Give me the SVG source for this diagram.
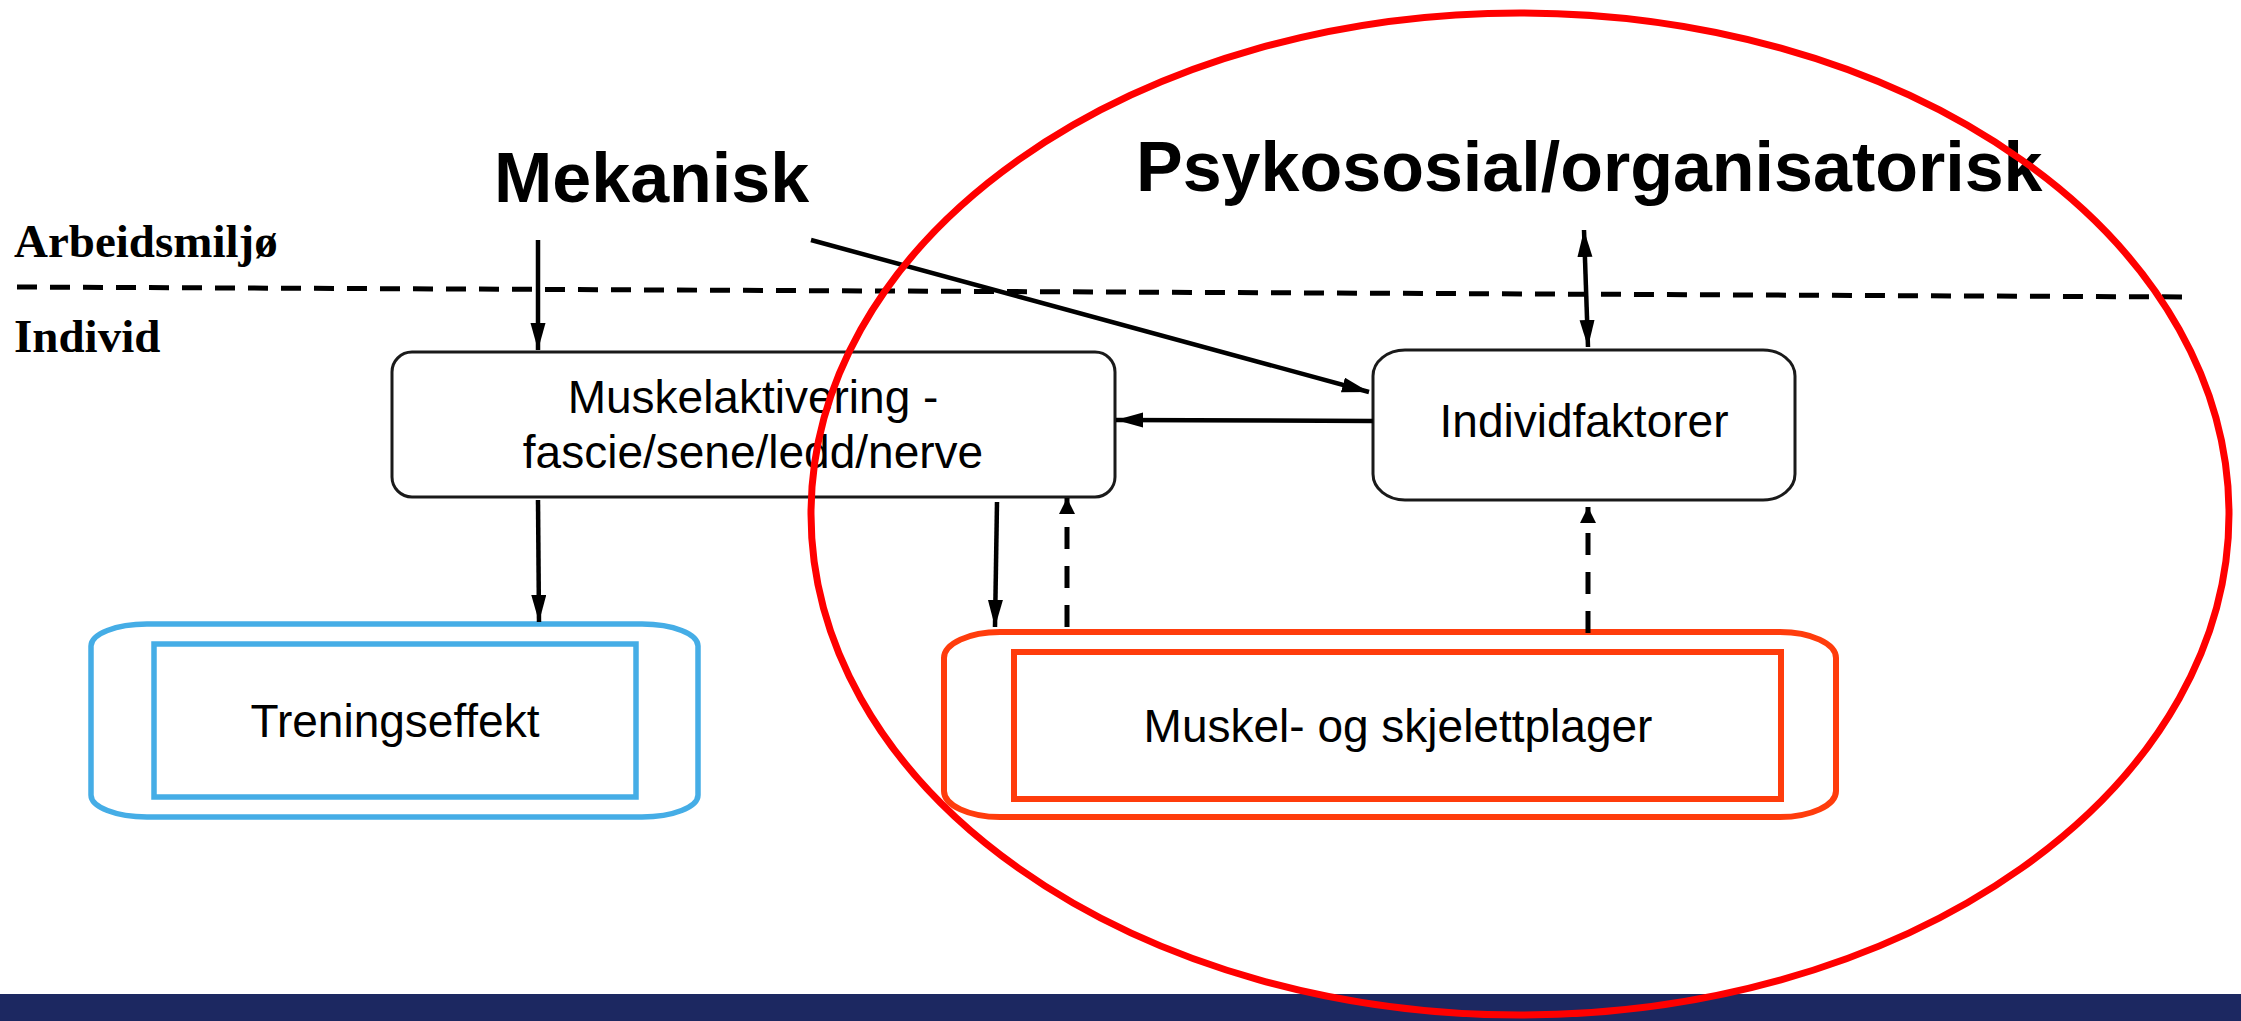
<svg xmlns="http://www.w3.org/2000/svg" width="2241" height="1021" viewBox="0 0 2241 1021">
<style>
.title{font-family:"Liberation Sans",Arial,sans-serif;font-weight:bold;font-size:70px;fill:#000}
.side{font-family:"Liberation Serif","Times New Roman",serif;font-weight:bold;font-size:47px;fill:#000}
.lbl{font-family:"Liberation Sans",Arial,sans-serif;font-size:46px;fill:#000;text-anchor:middle}
.box{fill:#fff;stroke:#1a1a1a;stroke-width:3}
.blue{fill:none;stroke:#45ade6;stroke-width:5.5}
.red{fill:none;stroke:#ff3c0c;stroke-width:6}
.conn{stroke:#000;stroke-width:4.5;fill:none}
.dash{stroke:#000;stroke-width:5;fill:none;stroke-dasharray:22 17}
</style>
<defs>
<marker id="arrow" markerUnits="userSpaceOnUse" markerWidth="28" markerHeight="16" refX="27" refY="7.5" orient="auto-start-reverse" viewBox="0 0 28 16">
<path d="M0,0 L27,7.5 L0,15 z" fill="#000"/>
</marker>
<marker id="arrowShort" markerUnits="userSpaceOnUse" markerWidth="18" markerHeight="17" refX="16" refY="8" orient="auto" viewBox="0 0 18 17">
<path d="M0,0 L16,8 L0,16 z" fill="#000"/>
</marker>
</defs>
<rect x="0" y="0" width="2241" height="1021" fill="#fff"/>
<rect x="0" y="994" width="2241" height="27" fill="#1c2861"/>

<g id="label-arbeidsmiljo"><text class="side" x="14" y="257">Arbeidsmiljø</text></g>
<g id="label-individ"><text class="side" x="14" y="352">Individ</text></g>
<g id="separator"><line x1="17" y1="287" x2="2193" y2="297" stroke="#000" stroke-width="5" stroke-dasharray="20 13"/></g>

<g id="node-mekanisk"><text class="title" x="494" y="202">Mekanisk</text></g>
<g id="node-psykososial"><text class="title" x="1136" y="191">Psykososial/organisatorisk</text></g>

<g id="node-muskelaktivering">
<rect class="box" x="392" y="352" width="723" height="145" rx="20" ry="20"/>
<text class="lbl" x="753" y="413">Muskelaktivering -</text>
<text class="lbl" x="753" y="468">fascie/sene/ledd/nerve</text>
</g>

<g id="node-individfaktorer">
<rect class="box" x="1373" y="350" width="422" height="150" rx="32" ry="26"/>
<text class="lbl" x="1584" y="437">Individfaktorer</text>
</g>

<g id="node-treningseffekt">
<rect class="blue" x="91" y="624" width="607" height="193" rx="56" ry="22"/>
<rect class="blue" x="154" y="644" width="482" height="153"/>
<text class="lbl" x="395" y="737">Treningseffekt</text>
</g>

<g id="node-plager">
<rect class="red" x="944" y="632" width="892" height="185" rx="56" ry="26"/>
<rect class="red" x="1014" y="652" width="767" height="147"/>
<text class="lbl" x="1398" y="742">Muskel- og skjelettplager</text>
</g>

<g id="connectors">
<line class="conn" x1="538" y1="240" x2="538" y2="350" marker-end="url(#arrow)"/>
<line class="conn" x1="811" y1="240" x2="1369" y2="392" marker-end="url(#arrow)"/>
<line class="conn" x1="1373" y1="421" x2="1116" y2="420" marker-end="url(#arrow)"/>
<line class="conn" x1="1584" y1="230" x2="1588" y2="347" marker-start="url(#arrow)" marker-end="url(#arrow)"/>
<line class="conn" x1="538" y1="500" x2="539" y2="622" marker-end="url(#arrow)"/>
<line class="conn" x1="997" y1="502" x2="995" y2="627" marker-end="url(#arrow)"/>
<line class="dash" x1="1067" y1="627" x2="1067" y2="498" marker-end="url(#arrowShort)"/>
<line class="dash" x1="1588" y1="633" x2="1588" y2="507" marker-end="url(#arrowShort)"/>
</g>

<g id="highlight-ellipse"><ellipse cx="1520" cy="514" rx="709" ry="501" fill="none" stroke="#ff0000" stroke-width="7"/></g>
</svg>
